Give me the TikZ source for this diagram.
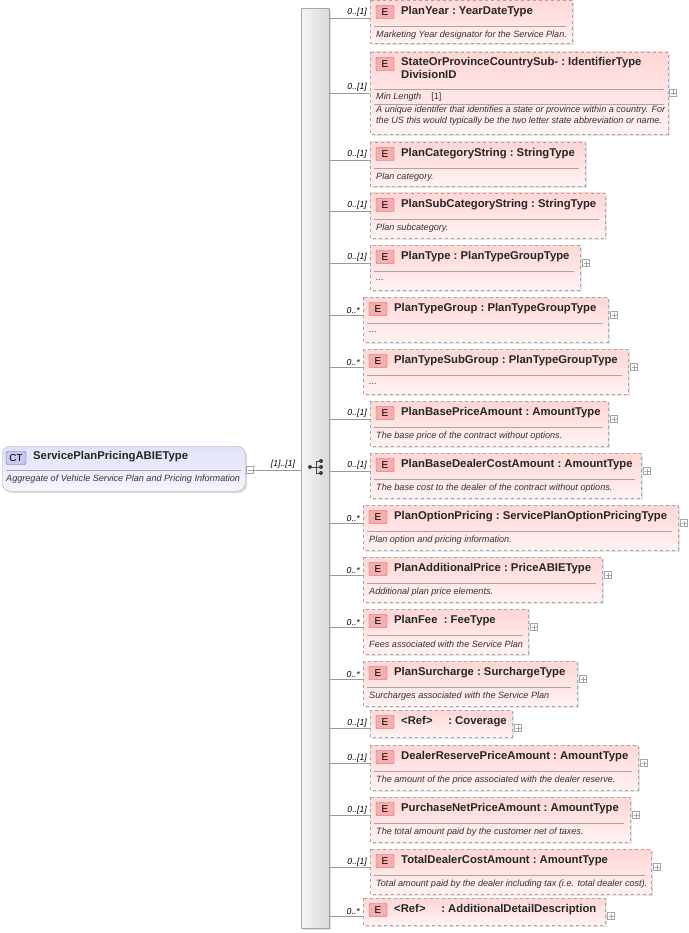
\documentclass[tikz,border=0pt]{standalone}
\usepackage{fontspec}
\setmainfont{Liberation Sans}
\begin{document}
\begin{tikzpicture}[x=1pt,y=-1pt,
  box/.style={draw=gray!70,dashed,top color={rgb,255:red,255;green,214;blue,214},bottom color={rgb,255:red,255;green,242;blue,242}},
  ebadge/.style={draw={rgb,255:red,200;green,80;blue,80},fill={rgb,255:red,245;green,175;blue,175},rounded corners=1pt,inner sep=0pt,minimum width=18pt,minimum height=13pt,font=\fontsize{10}{11}\selectfont},
  ttl/.style={anchor=west,inner sep=0pt,font=\bfseries\fontsize{11.3}{13}\selectfont,text=black!85},
  dsc/.style={anchor=west,inner sep=0pt,font=\itshape\fontsize{9.1}{11}\selectfont,text=black!80},
  mult/.style={anchor=south east,inner sep=1pt,font=\itshape\fontsize{8.7}{10}\selectfont},
  conn/.style={draw=gray!80},
  plusb/.style={draw=gray!70,fill=white,minimum size=7pt,inner sep=0pt}]
\useasboundingbox (0,0) rectangle (688,933);
% sequence bar
\fill[gray!25] (303,10) rectangle (331,930);
\node[draw=gray!70,left color=gray!8,right color=gray!30,minimum width=28pt,minimum height=920pt,inner sep=0pt,anchor=north west] (bar) at (301,8) {};
% CT box
\fill[gray!25,rounded corners=8pt] (4,448) rectangle (247,493);
\node[draw=gray!60,rounded corners=8pt,top color={rgb,255:red,225;green,225;blue,250},bottom color={rgb,255:red,245;green,245;blue,255},minimum width=243pt,minimum height=45pt,anchor=north west,inner sep=0pt] (ct) at (2,446) {};
\node[draw={rgb,255:red,90;green,90;blue,180},fill={rgb,255:red,200;green,200;blue,240},rounded corners=2pt,inner sep=0pt,minimum width=20pt,minimum height=13pt,font=\fontsize{10}{11}\selectfont] (ctb) at (16,458) {CT};
\node[ttl] (ctt) at (33,457) {ServicePlanPricingABIEType};
\draw[gray!70] (6,470) -- (241,470);
\node[dsc] (ctd) at (6,479) {Aggregate of Vehicle Service Plan and Pricing Information};
\node[plusb] (ctm) at (250,470) {};
\draw[gray!70] (247.5,470) -- (252.5,470);
\draw[conn] (ctm.east) -- (bar.west |- ctm.east);
\node[mult,anchor=south] (ctmult) at (283,470) {[1]..[1]};
% sequence icon
\fill[black!75] (310,467) circle (2);
\draw[black!75,line width=0.8pt] (310,467) -- (316,467) (316,461) -- (316,473) (316,461) -- (321,461) (316,473) -- (321,473) (316,467)--(321,467);
\fill[black!75] (321,461) circle (2) (321,467) circle (2) (321,473) circle (2);
% element macro
\newcommand\elbox[9]{%
  \fill[gray!20] (#2+2,#3+2) rectangle (#4+2,#5+2);
  \path[box] (#2,#3) rectangle (#4,#5);
  \coordinate (#1) at (#2,#3+18);
  \node[ebadge] (#1b) at (#2+15,#3+12) {E};
  \node[ttl] (#1t) at (#2+31,#3+12) {#6};
  \ifx&#7&\else
  \draw[gray!70] (#2+4,#3+26) -- (#4-6,#3+26);
  \node[dsc] (#1d) at (#2+6,#3+35) {#7};
  \fi
  \draw[conn] (bar.east |- #1) -- (#1);
  \node[mult] (#1m) at (#2-2,#3+18) {#8};
  \ifnum#9=1 \node[plusb] (#1p) at (#4+6,#3+18) {}; \draw[gray!70] (#4+3.5,#3+18)--(#4+8.5,#3+18) (#4+6,#3+15.5)--(#4+6,#3+20.5);\fi
}
\elbox{e1}{370}{0}{572}{43}{PlanYear\ :\ YearDateType}{Marketing Year designator for the Service Plan.}{0..[1]}{0}
% state box (custom)
\fill[gray!20] (372,54) rectangle (670,136);
\path[box] (370,52) rectangle (668,134);
\coordinate (e2) at (370,93);
\node[ebadge] (e2b) at (385,64) {E};
\node[ttl,anchor=north west,align=left] (e2t) at (401,57) {StateOrProvinceCountrySub-\ :\ IdentifierType\\DivisionID};
\draw[gray!70] (374,89) -- (664,89);
\node[dsc] (e2ml) at (376,97) {Min Length\ \ \ \ \normalfont[1]};
\draw[gray!70] (374,104) -- (664,104);
\node[dsc,anchor=north west,align=left] (e2d) at (376,106) {A unique identifer that identifies a state or province within a country. For\\the US this would typically be the two letter state abbreviation or name.};
\draw[conn] (bar.east |- e2) -- (e2);
\node[mult] (e2m) at (368,93) {0..[1]};
\node[plusb] (e2p) at (673,93) {}; \draw[gray!70] (670.5,93)--(675.5,93) (673,90.5)--(673,95.5);
\elbox{e3}{370}{142}{585}{186}{PlanCategoryString\ :\ StringType}{Plan category.}{0..[1]}{0}
\elbox{e4}{370}{193}{605}{238}{PlanSubCategoryString\ :\ StringType}{Plan subcategory.}{0..[1]}{0}
\elbox{e5}{370}{245}{580}{290}{PlanType\ :\ PlanTypeGroupType}{...}{0..[1]}{1}
\elbox{e6}{363}{297}{608}{342}{PlanTypeGroup\ :\ PlanTypeGroupType}{...}{0..*}{1}
\elbox{e7}{363}{349}{628}{394}{PlanTypeSubGroup\ :\ PlanTypeGroupType}{...}{0..*}{1}
\elbox{e8}{370}{401}{608}{446}{PlanBasePriceAmount\ :\ AmountType}{The base price of the contract without options.}{0..[1]}{1}
\elbox{e9}{370}{453}{641}{498}{PlanBaseDealerCostAmount\ :\ AmountType}{The base cost to the dealer of the contract without options.}{0..[1]}{1}
\elbox{e10}{363}{505}{678}{550}{PlanOptionPricing\ :\ ServicePlanOptionPricingType}{Plan option and pricing information.}{0..*}{1}
\elbox{e11}{363}{557}{602}{602}{PlanAdditionalPrice\ :\ PriceABIEType}{Additional plan price elements.}{0..*}{1}
\elbox{e12}{363}{609}{528}{654}{PlanFee\ \ :\ FeeType}{Fees associated with the Service Plan}{0..*}{1}
\elbox{e13}{363}{661}{577}{706}{PlanSurcharge\ :\ SurchargeType}{Surcharges associated with the Service Plan}{0..*}{1}
\elbox{e14}{370}{710}{512}{737}{<Ref>\ \ \ \ \ :\ Coverage}{}{0..[1]}{1}
\elbox{e15}{370}{745}{638}{790}{DealerReservePriceAmount\ :\ AmountType}{The amount of the price associated with the dealer reserve.}{0..[1]}{1}
\elbox{e16}{370}{797}{630}{842}{PurchaseNetPriceAmount\ :\ AmountType}{The total amount paid by the customer net of taxes.}{0..[1]}{1}
\elbox{e17}{370}{849}{651}{894}{TotalDealerCostAmount\ :\ AmountType}{Total amount paid by the dealer including tax (i.e. total dealer cost).}{0..[1]}{1}
\elbox{e18}{363}{898}{605}{925}{<Ref>\ \ \ \ \ :\ AdditionalDetailDescription}{}{0..*}{1}
\end{tikzpicture}
\end{document}
